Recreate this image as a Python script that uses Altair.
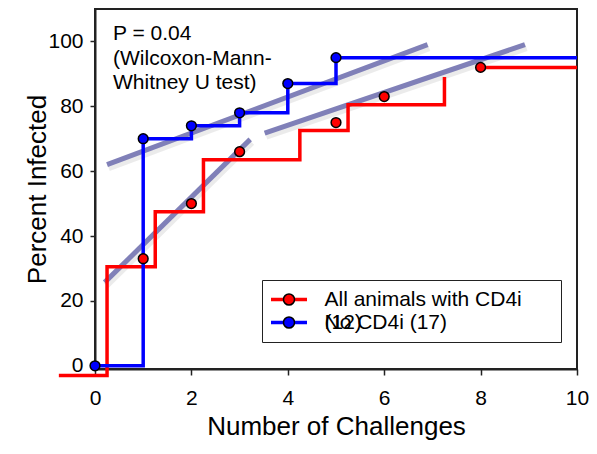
import altair as alt
import pandas as pd

FONT = "Liberation Sans"
S1 = "All animals with CD4i (12)"
S2 = "No CD4i (17)"

# Red series (all animals with CD4i) – step curve vertices (step-after)
red_step_x = [-0.75, 0.25, 1.25, 2.25, 4.25, 5.25, 7.25]
red_step_y = [-3, 30.5, 47.5, 63.5, 72.5, 80.5, 89]
red_tail_x = [8, 10]
red_tail_y = [92, 92]
red_pts_x = [1, 2, 3, 5, 6, 8]
red_pts_y = [33, 50, 66, 75, 83, 92]

# Blue series (no CD4i)
blue_step_x = [0, 1, 2, 3, 4, 5, 10]
blue_step_y = [0, 70, 74, 78, 87, 95, 95]
blue_pts_x = [0, 1, 2, 3, 4, 5]
blue_pts_y = [0, 70, 74, 78, 87, 95]

# Trend lines (start / end)
trend_x0 = [0.25, 0.2, 3.52]
trend_y0 = [62, 25.7, 71.7]
trend_x1 = [6.9, 3.22, 8.92]
trend_y1 = [99, 69.8, 99]

note_text = "P = 0.04\n(Wilcoxon-Mann-\nWhitney U test)"

lines_df = pd.DataFrame({
    "x": red_step_x + red_tail_x + blue_step_x,
    "y": red_step_y + red_tail_y + blue_step_y,
    "series": [S1] * len(red_step_x) + [S1] * len(red_tail_x) + [S2] * len(blue_step_x),
    "seg": ["r1"] * len(red_step_x) + ["r2"] * len(red_tail_x) + ["b1"] * len(blue_step_x),
})
pts_df = pd.DataFrame({
    "x": red_pts_x + blue_pts_x,
    "y": red_pts_y + blue_pts_y,
    "series": [S1] * len(red_pts_x) + [S2] * len(blue_pts_x),
})
trend_df = pd.DataFrame({"x": trend_x0, "y": trend_y0, "x2": trend_x1, "y2": trend_y1})
note_df = pd.DataFrame({"t": [note_text]})

W, H = 482, 360

xscale = alt.Scale(domain=[0, 10], nice=False, zero=False)
yscale = alt.Scale(domain=[-1, 110], nice=False, zero=False)

xaxis = alt.Axis(values=[0, 2, 4, 6, 8, 10], format="d", title="Number of Challenges",
                 grid=False, tickSize=6, tickWidth=1.5, tickColor="#222",
                 domainColor="#222", domainWidth=2, labelFont=FONT, labelFontSize=21,
                 labelColor="black", labelPadding=12, labelFlush=False, labelOverlap=False,
                 titleFont=FONT, titleFontSize=26, titleFontWeight="normal", titleColor="black",
                 titleX=W / 2, titleY=65, titleBaseline="alphabetic", titleAlign="center")
yaxis = alt.Axis(values=[0, 20, 40, 60, 80, 100], format="d", title="Percent Infected",
                 grid=False, tickSize=5, tickWidth=1.5, tickColor="#222",
                 domainColor="#222", domainWidth=2, labelFont=FONT, labelFontSize=21,
                 labelColor="black", labelPadding=7, labelFlush=False, labelOverlap=False,
                 titleFont=FONT, titleFontSize=26, titleFontWeight="normal", titleColor="black",
                 titleX=-50, titleY=H / 2, titleAngle=270, titleBaseline="alphabetic",
                 titleAlign="center")

X = alt.X("x:Q", scale=xscale, axis=xaxis)
Y = alt.Y("y:Q", scale=yscale, axis=yaxis)

shadow = alt.Chart(trend_df).mark_rule(color="black", opacity=0.08, strokeWidth=7,
                                       xOffset=1.5, x2Offset=1.5, yOffset=3, y2Offset=3).encode(
    x=X, y=Y, x2="x2:Q", y2="y2:Q")
trend = alt.Chart(trend_df).mark_rule(color="#8080b8", strokeWidth=5, strokeCap="butt").encode(
    x=X, y=Y, x2="x2:Q", y2="y2:Q")

leg_common = dict(title=None, orient="none", legendX=167, legendY=271,
                  symbolSize=144, symbolOffset=7.5, labelOffset=25,
                  labelFont=FONT, labelFontSize=21, labelColor="black",
                  labelLimit=500, padding=9, rowPadding=1, labelBaseline="middle")

PAD = "\u2800\u2800"

lines = alt.Chart(lines_df).mark_line(interpolate="step-after", strokeWidth=3.5).encode(
    x=X, y=Y,
    stroke=alt.Stroke("series:N",
                      scale=alt.Scale(domain=[S1, S2], range=["#ff0000", "#0000ff"]),
                      legend=alt.Legend(symbolType="M-3,0L3,0", symbolStrokeWidth=3.5,
                                        strokeColor="#222", zindex=0,
                                        labelExpr="datum.label == '" + S1 + "' ? 'All animals with CD4i" + PAD + "' : datum.label",
                                        **leg_common)),
    detail="seg:N",
)

points = alt.Chart(pts_df).mark_circle(size=95, opacity=1, stroke="black", strokeWidth=1.5).encode(
    x=X, y=Y,
    fill=alt.Fill("series:N", scale=alt.Scale(range=["#ff0000", "#0000ff"]),
                  legend=alt.Legend(symbolType="M0.92,0A0.92,0.92,0,1,1,-0.92,0A0.92,0.92,0,1,1,0.92,0Z",
                                    symbolStrokeColor="black", symbolStrokeWidth=1.5,
                                    zindex=1,
                                    labelExpr="datum.label == '" + S2 + "' ? '(12)' : '\u2800'",
                                    **leg_common)),
)

note = alt.Chart(note_df).mark_text(align="left", baseline="alphabetic", font=FONT, fontSize=21,
                                    lineBreak="\n", lineHeight=24.5, color="black").encode(
    x=alt.value(18), y=alt.value(31), text="t:N")

chart = alt.layer(shadow, trend, lines, points, note).resolve_scale(
    stroke="independent", fill="independent"
).properties(
    width=W, height=H,
    autosize=alt.AutoSizeParams(type="none"),
    padding={"left": 87, "top": 1, "right": 12, "bottom": 73},
).configure_view(stroke="#222", strokeWidth=2)

chart.save("out.html", embed_options={"renderer": "svg", "actions": False})
